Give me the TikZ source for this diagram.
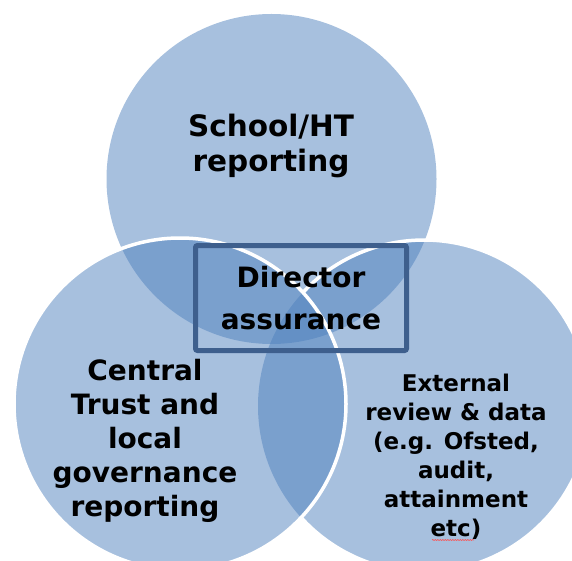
\documentclass[tikz,border=0pt]{standalone}
\usepackage{fontspec}
\setmainfont{DejaVu Sans}
\usepackage{xcolor}
\usetikzlibrary{decorations.pathmorphing}
\definecolor{vennblue}{RGB}{79,129,189}
\definecolor{boxblue}{RGB}{62,95,141}

\begin{document}
\begin{tikzpicture}[x=1pt, y=-1pt]
  \useasboundingbox (0,0) rectangle (572,561);
  % circles
  \fill[vennblue, fill opacity=0.5] (271.5,179) circle (165);
  \fill[vennblue, fill opacity=0.5] (424,406) circle (166);
  \draw[white, line width=3.5pt] (424,406) ++(-137.3:166) arc[start angle=-137.3, end angle=137.3, radius=166];
  \fill[vennblue, fill opacity=0.5] (180,404) circle (166);
  \draw[white, line width=3.5pt] (180,404) circle (166);
  % labels
  \node[font=\fontsize{29.5}{35}\selectfont\bfseries, align=center] (school) at (271,146) {School/HT\\reporting};
  \node[font=\fontsize{28}{34}\selectfont\bfseries, align=center] (central) at (145,441) {Central\\Trust and\\local\\governance\\reporting};
  \node[font=\fontsize{23}{29}\selectfont\bfseries, align=center] (external) at (456,457) {External\\review \& data\\(e.g. Ofsted,\\audit,\\attainment\\etc)};
  \node[draw=boxblue, line width=5pt, rounded corners=2pt, minimum width=211pt, minimum height=105pt,
        font=\fontsize{28}{42}\selectfont\bfseries, align=center] (director) at (301,298) {Director\\assurance};
  \draw[red!70, line width=0.6pt, decorate, decoration={snake, amplitude=0.5pt, segment length=2.5pt}] (432,540) -- (474,540);
\end{tikzpicture}
\end{document}
